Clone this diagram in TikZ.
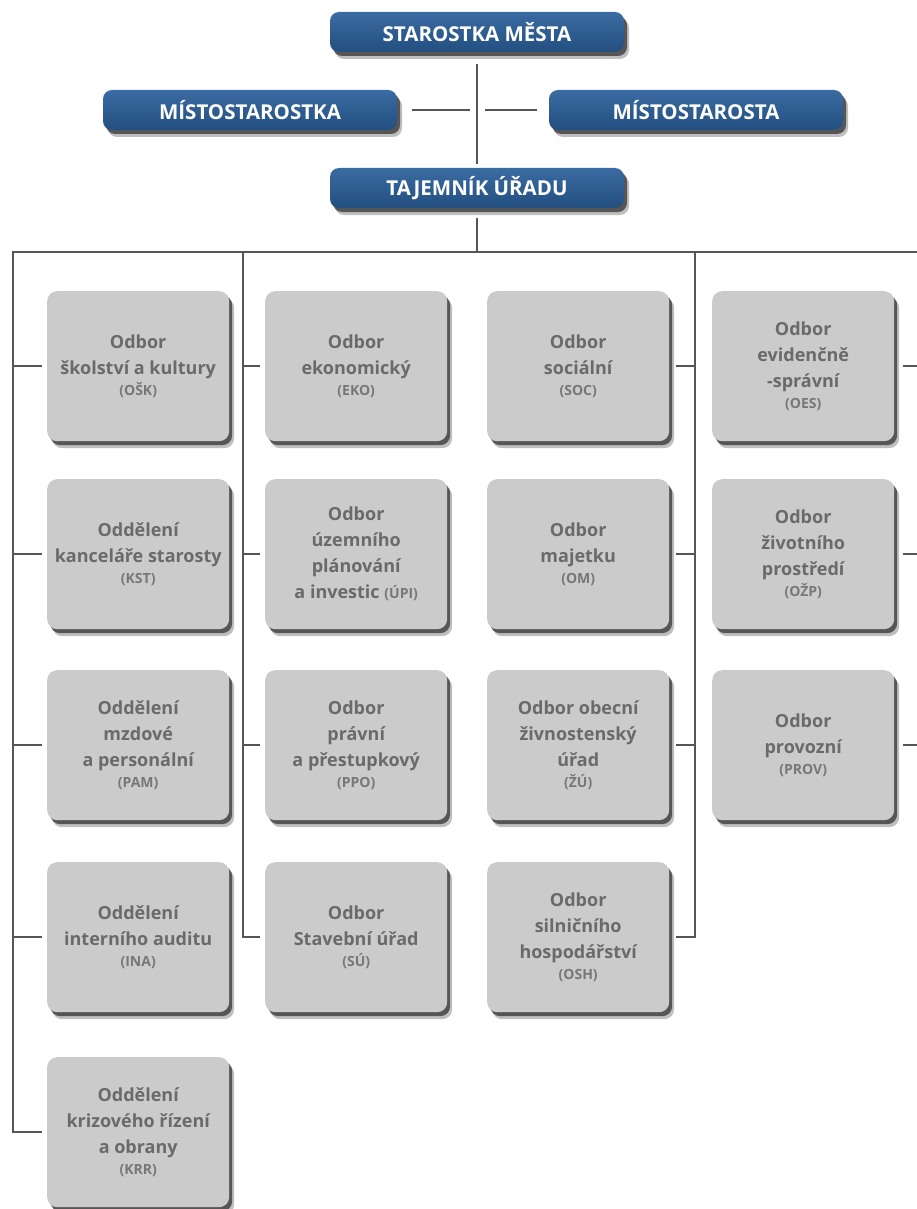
\documentclass[tikz,border=0pt]{standalone}
\usepackage{fontspec}
\setmainfont{Open Sans}
\usetikzlibrary{shadows,calc}
\definecolor{bluetop}{HTML}{3A6BA2}
\definecolor{bluebot}{HTML}{234F80}
\definecolor{boxgray}{HTML}{CBCBCB}
\definecolor{txtgray}{HTML}{6A6A6A}
\definecolor{abgray}{HTML}{777777}
\definecolor{linegray}{HTML}{555555}
\newcommand\deptabbr[1]{{\fontsize{14}{15}\selectfont\color{abgray}#1}}
\tikzset{
  softshadow/.style={drop shadow={shadow xshift=5pt,shadow yshift=-7pt,opacity=.25,fill=black},
                     drop shadow={shadow xshift=3pt,shadow yshift=-4pt,opacity=.75,fill=black!80}},
  lead/.style={rounded corners=9pt, minimum width=294pt, minimum height=40pt, inner sep=0pt,
    top color=bluetop, bottom color=bluebot, text=white, softshadow,
    font=\fontsize{20.5}{22}\selectfont\bfseries},
  dept/.style={rounded corners=10pt, minimum width=182pt, minimum height=150pt, inner sep=0pt,
    fill=boxgray, text=txtgray, align=center, anchor=north west, softshadow,
    font=\fontsize{18}{26}\selectfont\bfseries},
  conn/.style={draw=linegray, line width=2pt},
}
\begin{document}
\begin{tikzpicture}[x=1pt,y=-1pt]
\useasboundingbox[fill=white] (0,0) rectangle (917,1209);
% leadership
\node[lead] (star) at (477,32) {STAROSTKA MĚSTA};
\node[lead] (mstka) at (250,110) {MÍSTOSTAROSTKA};
\node[lead] (msta) at (696,110) {MÍSTOSTAROSTA};
\node[lead] (taj) at (477,188) {TAJEMNÍK ÚŘADU};
\coordinate (mid) at (477,110);
\coordinate (busmid) at (477,252);
\coordinate (tL) at (13,252);
\coordinate (t2) at (243,252);
\coordinate (t3) at (695,252);
\coordinate (tR) at (917,252);
\coordinate (t4) at (921,252);
% column 1
\node[dept] (b11) at (47,291) {Odbor\\školství a kultury\\[-5pt]\deptabbr{(OŠK)}};
\node[dept] (b12) at (47,479) {Oddělení\\kanceláře starosty\\[-5pt]\deptabbr{(KST)}};
\node[dept] (b13) at (47,670) {Oddělení\\mzdové\\a personální\\[-5pt]\deptabbr{(PAM)}};
\node[dept] (b14) at (47,862) {Oddělení\\interního auditu\\[-5pt]\deptabbr{(INA)}};
\node[dept] (b15) at (47,1057) {Oddělení\\krizového řízení\\a obrany\\[-5pt]\deptabbr{(KRR)}};
% column 2
\node[dept] (b21) at (265,291) {Odbor\\ekonomický\\[-5pt]\deptabbr{(EKO)}};
\node[dept] (b22) at (265,479) {Odbor\\územního\\plánování\\a investic \deptabbr{(ÚPI)}};
\node[dept] (b23) at (265,670) {Odbor\\právní\\a přestupkový\\[-5pt]\deptabbr{(PPO)}};
\node[dept] (b24) at (265,862) {Odbor\\Stavební úřad\\[-5pt]\deptabbr{(SÚ)}};
% column 3
\node[dept] (b31) at (487,291) {Odbor\\sociální\\[-5pt]\deptabbr{(SOC)}};
\node[dept] (b32) at (487,479) {Odbor\\majetku\\[-5pt]\deptabbr{(OM)}};
\node[dept] (b33) at (487,670) {Odbor obecní\\živnostenský\\úřad\\[-5pt]\deptabbr{(ŽÚ)}};
\node[dept] (b34) at (487,862) {Odbor\\silničního\\hospodářství\\[-5pt]\deptabbr{(OSH)}};
% column 4
\node[dept] (b41) at (712,291) {Odbor\\evidenčně\\-správní\\[-5pt]\deptabbr{(OES)}};
\node[dept] (b42) at (712,479) {Odbor\\životního\\prostředí\\[-5pt]\deptabbr{(OŽP)}};
\node[dept] (b43) at (712,670) {Odbor\\provozní\\[-5pt]\deptabbr{(PROV)}};
% connectors top
\draw[conn, shorten <=12pt, shorten >=4pt] (star) -- (taj);
\draw[conn, shorten <=15pt, shorten >=7pt] (mstka.east) -- (mid);
\draw[conn, shorten <=8pt, shorten >=12pt] (mid) -- (msta.west);
\draw[conn, shorten <=10pt] (taj.south) -- (busmid);
% bus and trunks
\draw[conn, shorten >=5pt] (tR) -- (tL) |- (b15.west);
\foreach \b in {b11,b12,b13,b14} \draw[conn, shorten >=5pt] (tL) |- (\b.west);
\foreach \b in {b21,b22,b23,b24} \draw[conn, shorten >=5pt] (t2) |- (\b.west);
\foreach \b in {b31,b32,b33,b34} \draw[conn, shorten >=7pt] (t3) |- (\b.east);
\foreach \b in {b41,b42,b43} \draw[conn, shorten >=9pt] (t4) |- (\b.east);
\end{tikzpicture}
\end{document}
